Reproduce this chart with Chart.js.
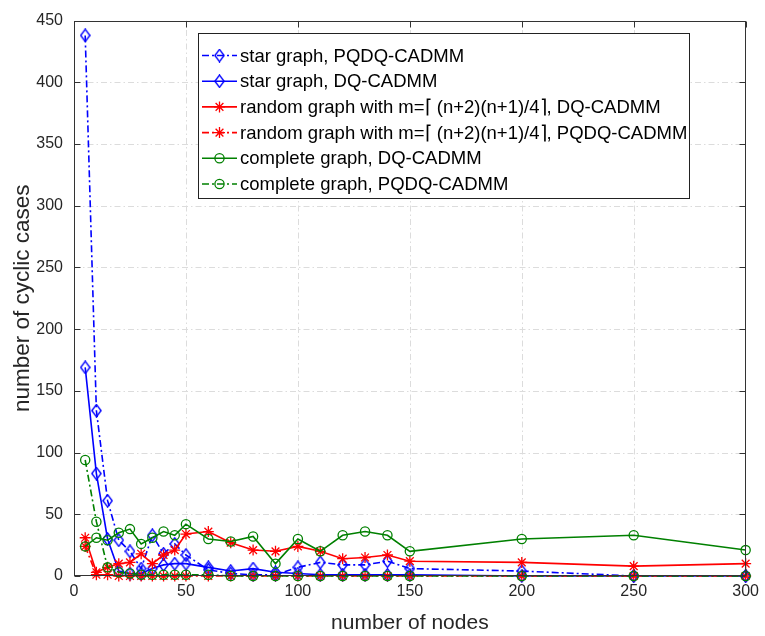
<!DOCTYPE html>
<html>
<head>
<meta charset="utf-8">
<script src="https://cdn.jsdelivr.net/npm/chart.js@4.4.1/dist/chart.umd.min.js"></script>
<style>
  html, body { margin: 0; padding: 0; background: #ffffff; }
  #wrap { width: 765px; height: 636px; }
</style>
</head>
<body>
<div id="wrap"><canvas id="c" width="765" height="636"></canvas></div>
<script>
// Number of nodes in each experiment
const nodes = [5, 10, 15, 20, 25, 30, 35, 40, 45, 50, 60, 70, 80, 90, 100, 110, 120, 130, 140, 150, 200, 250, 300];

// Number of cyclic cases per graph type and algorithm
const starPQDQ = [438, 134, 61, 29, 20, 6, 33, 18, 26, 17, 5, 2, 1, 1, 7, 11, 9, 9, 12, 6, 4, 0, 0];
const starDQ   = [169, 83, 30, 4, 2, 2, 6, 9, 10, 10, 7, 4, 6, 3, 2, 1, 1, 1, 1, 1, 0, 0, 0];
const randDQ   = [31, 3, 7, 10, 11, 18, 10, 17, 21, 34, 36, 27, 21, 20, 24, 20, 14, 15, 17, 12, 11, 8, 10];
const randPQDQ = [24, 1, 1, 0, 0, 0, 0, 0, 0, 0, 0, 0, 0, 0, 0, 0, 0, 0, 0, 0, 0, 0, 0];
const compDQ   = [24, 31, 29, 35, 38, 26, 31, 36, 33, 42, 30, 28, 32, 10, 30, 20, 33, 36, 33, 20, 30, 33, 21];
const compPQDQ = [94, 44, 7, 3, 2, 1, 1, 1, 1, 1, 1, 0, 0, 0, 0, 0, 0, 0, 0, 0, 0, 0, 0];

const seriesNames = [
  'star graph, PQDQ-CADMM',
  'star graph, DQ-CADMM',
  'random graph with m=\u2308 (n+2)(n+1)/4\u2309, DQ-CADMM',
  'random graph with m=\u2308 (n+2)(n+1)/4\u2309, PQDQ-CADMM',
  'complete graph, DQ-CADMM',
  'complete graph, PQDQ-CADMM'
];

const xTicks = [0, 50, 100, 150, 200, 250, 300];
const yTicks = [0, 50, 100, 150, 200, 250, 300, 350, 400, 450];

const FONT = "'Liberation Sans', Arial, Helvetica, sans-serif";
const AXIS_COLOR = '#333333';
const DASH_DOT = [7, 3, 2, 3];

// Open diamond marker, a little taller than wide
function diamondMarker(color) {
  const w = 11, h = 14;
  const c = document.createElement('canvas');
  c.width = w; c.height = h;
  const g = c.getContext('2d');
  g.strokeStyle = color;
  g.lineWidth = 1.4;
  g.beginPath();
  g.moveTo(w / 2, 0.9);
  g.lineTo(w - 0.9, h / 2);
  g.lineTo(w / 2, h - 0.9);
  g.lineTo(0.9, h / 2);
  g.closePath();
  g.stroke();
  return c;
}

const blueDiamond = diamondMarker('#0000ff');

function series(label, values, color, dash, marker, radius, order) {
  return {
    label,
    data: nodes.map((x, i) => ({ x, y: values[i] })),
    showLine: true,
    borderColor: color,
    backgroundColor: 'rgba(0,0,0,0)',
    borderWidth: 1.6,
    borderDash: dash,
    tension: 0,
    fill: false,
    clip: false,
    pointStyle: marker,
    pointRadius: radius,
    pointHoverRadius: radius,
    pointBorderColor: color,
    pointBackgroundColor: 'rgba(0,0,0,0)',
    pointBorderWidth: 1.3,
    order
  };
}

const datasets = [
  series(seriesNames[0], starPQDQ, '#0000ff', DASH_DOT, blueDiamond, 6, 5),
  series(seriesNames[1], starDQ,   '#0000ff', [],       blueDiamond, 6, 4),
  series(seriesNames[2], randDQ,   '#ff0000', [],       'star', 5.5, 3),
  series(seriesNames[3], randPQDQ, '#ff0000', DASH_DOT, 'star', 5.5, 2),
  series(seriesNames[4], compDQ,   '#008000', [],       'circle', 4.6, 1),
  series(seriesNames[5], compPQDQ, '#008000', DASH_DOT, 'circle', 4.6, 0)
];

// Dash-dot grid, boxed axes with inward ticks, and the legend box
const framePlugin = {
  id: 'frame',
  beforeDatasetsDraw(chart) {
    const { ctx, chartArea: a, scales: { x, y } } = chart;
    ctx.save();
    ctx.strokeStyle = '#dcdcdc';
    ctx.lineWidth = 1;
    ctx.setLineDash([6, 3, 1.5, 3]);
    xTicks.forEach(v => {
      if (v === xTicks[0] || v === xTicks[xTicks.length - 1]) return;
      const px = Math.round(x.getPixelForValue(v)) + 0.5;
      ctx.beginPath(); ctx.moveTo(px, a.bottom); ctx.lineTo(px, a.top); ctx.stroke();
    });
    yTicks.forEach(v => {
      if (v === yTicks[0] || v === yTicks[yTicks.length - 1]) return;
      const py = Math.round(y.getPixelForValue(v)) + 0.5;
      ctx.beginPath(); ctx.moveTo(a.left, py); ctx.lineTo(a.right, py); ctx.stroke();
    });
    ctx.restore();
  },
  afterDatasetsDraw(chart) {
    const { ctx, chartArea: a, scales: { x, y } } = chart;
    ctx.save();
    ctx.setLineDash([]);
    ctx.strokeStyle = AXIS_COLOR;
    ctx.lineWidth = 1;
    const L = Math.round(a.left) + 0.5, R = Math.round(a.right) - 0.5;
    const T = Math.round(a.top) + 0.5, B = Math.round(a.bottom) - 0.5;
    ctx.strokeRect(L, T, R - L, B - T);
    const tl = 6;
    xTicks.forEach(v => {
      const px = Math.round(x.getPixelForValue(v)) + 0.5;
      ctx.beginPath();
      ctx.moveTo(px, B); ctx.lineTo(px, B - tl);
      ctx.moveTo(px, T); ctx.lineTo(px, T + tl);
      ctx.stroke();
    });
    yTicks.forEach(v => {
      const py = Math.round(y.getPixelForValue(v)) + 0.5;
      ctx.beginPath();
      ctx.moveTo(L, py); ctx.lineTo(L + tl, py);
      ctx.moveTo(R, py); ctx.lineTo(R - tl, py);
      ctx.stroke();
    });

    // Legend
    const box = { left: 198.5, top: 33.5, right: 689.5, bottom: 198.5 };
    ctx.fillStyle = '#ffffff';
    ctx.fillRect(box.left, box.top, box.right - box.left, box.bottom - box.top);
    ctx.strokeStyle = '#222222';
    ctx.lineWidth = 1;
    ctx.strokeRect(box.left, box.top, box.right - box.left, box.bottom - box.top);
    ctx.font = '18.5px ' + FONT;
    ctx.textBaseline = 'middle';
    ctx.textAlign = 'left';
    datasets.forEach((ds, i) => {
      const ry = box.top + 22 + i * 25.7;
      ctx.strokeStyle = ds.borderColor;
      ctx.lineWidth = ds.borderWidth;
      ctx.setLineDash(ds.borderDash);
      ctx.beginPath(); ctx.moveTo(202, ry); ctx.lineTo(237, ry); ctx.stroke();
      ctx.setLineDash([]);
      ctx.lineWidth = ds.pointBorderWidth;
      ctx.fillStyle = 'rgba(0,0,0,0)';
      Chart.helpers.drawPoint(ctx, { pointStyle: ds.pointStyle, radius: ds.pointRadius, borderWidth: ds.pointBorderWidth, rotation: 0 }, 219.5, ry);
      ctx.fillStyle = '#000000';
      ctx.fillText(ds.label, 240, ry + 1);
    });
    ctx.restore();
  }
};

new Chart(document.getElementById('c'), {
  type: 'scatter',
  data: { datasets },
  options: {
    responsive: false,
    animation: false,
    events: [],
    layout: { padding: { left: 0, top: 16, right: 15, bottom: 0 } },
    plugins: { legend: { display: false }, tooltip: { enabled: false } },
    scales: {
      x: {
        type: 'linear',
        min: 0, max: 300,
        afterBuildTicks: s => { s.ticks = xTicks.map(v => ({ value: v })); },
        afterFit: s => { s.height = 60; },
        grid: { display: false, drawTicks: false },
        border: { display: false },
        ticks: { padding: 6, color: '#262626', font: { family: FONT, size: 16 }, maxRotation: 0 },
        title: { display: true, text: 'number of nodes', color: '#262626', font: { family: FONT, size: 21 }, padding: { top: 0, bottom: 0 } }
      },
      y: {
        type: 'linear',
        min: 0, max: 450,
        afterBuildTicks: s => { s.ticks = yTicks.map(v => ({ value: v })); },
        afterFit: s => { s.width = 74; },
        grid: { display: false, drawTicks: false },
        border: { display: false },
        ticks: { padding: 11, color: '#262626', font: { family: FONT, size: 16 } },
        title: { display: true, text: 'number of cyclic cases', color: '#262626', font: { family: FONT, size: 22.5 }, padding: { top: 9, bottom: 0 } }
      }
    }
  },
  plugins: [framePlugin]
});
</script>
</body>
</html>
